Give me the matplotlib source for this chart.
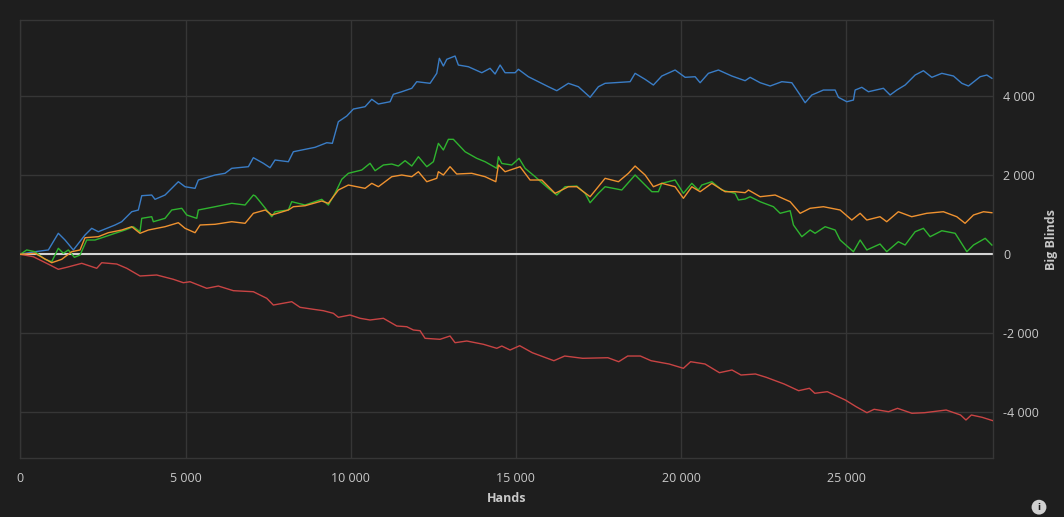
import matplotlib
matplotlib.use("Agg")
import matplotlib.pyplot as plt
from matplotlib.ticker import FuncFormatter

# --------------------------------------------------
# DATA (hands, big blinds)
# --------------------------------------------------
blue_hands = [0, 445, 848, 1150, 1353, 1604, 1958, 2161, 2361, 2867, 3069, 3372, 3572, 3675,
              3977, 4077, 4380, 4783, 4985, 5288, 5388, 5894, 6196, 6399, 6902, 7053, 7356,
              7558, 7709, 8112, 8264, 8921, 9275, 9444, 9626, 9880, 10080, 10434, 10637,
              10837, 11191, 11291, 11545, 11848, 11999, 12402, 12604, 12683, 12804, 12907,
              13158, 13258, 13561, 13967, 14218, 14369, 14521, 14672, 14975, 15074, 15377,
              15982, 16237, 16588, 16891, 17245, 17496, 17699, 18456, 18607, 18910, 19161,
              19416, 19818, 20121, 20424, 20575, 20826, 21129, 21534, 21937, 22088, 22391,
              22694, 23048, 23351, 23602, 23754, 23956, 24307, 24661, 24761, 25015, 25215,
              25266, 25469, 25669, 26123, 26326, 26529, 26780, 27083, 27334, 27589, 27891,
              28243, 28497, 28697, 29051, 29253, 29405]
blue_bb = [0, 66, 110, 532, 362, 110, 489, 658, 572, 742, 825, 1078, 1121, 1484,
           1501, 1392, 1501, 1838, 1711, 1670, 1881, 2008, 2051, 2177, 2218, 2446, 2304,
           2192, 2387, 2344, 2597, 2709, 2825, 2810, 3357, 3501, 3678, 3737, 3924,
           3805, 3863, 4051, 4116, 4203, 4370, 4329, 4582, 4962, 4767, 4937,
           5020, 4792, 4749, 4597, 4709, 4565, 4792, 4597, 4597, 4684, 4496,
           4243, 4142, 4329, 4243, 3975, 4243, 4329, 4370, 4582, 4430, 4286,
           4514, 4666, 4481, 4496, 4344, 4582, 4666, 4514, 4395, 4481, 4344,
           4261, 4370, 4344, 4033, 3838, 4033, 4159, 4159, 3975, 3863, 3906,
           4159, 4228, 4116, 4203, 4033, 4159, 4286, 4539, 4648, 4481, 4582,
           4514, 4329, 4261, 4496, 4539, 4456]

green_hands = [0, 194, 445, 748, 950, 1150, 1302, 1453, 1635, 1807, 2010, 2261, 2564, 2867,
               3169, 3421, 3623, 3675, 3977, 4026, 4380, 4583, 4886, 5037, 5340, 5388, 5894,
               6399, 6802, 7053, 7113, 7214, 7416, 7610, 7710, 8112, 8215, 8618, 9123, 9323,
               9526, 9729, 9929, 10334, 10585, 10737, 10988, 11242, 11442, 11645, 11848,
               12048, 12302, 12502, 12653, 12804, 12956, 13107, 13461, 13815, 14067, 14421,
               14470, 14572, 14874, 15095, 15278, 15581, 15982, 16237, 16488, 16842, 17093,
               17245, 17496, 17699, 18204, 18607, 18859, 19113, 19313, 19416, 19818, 20069,
               20324, 20523, 20626, 20929, 21232, 21634, 21734, 21937, 22088, 22391, 22794,
               22997, 23300, 23400, 23653, 23904, 24055, 24358, 24661, 24812, 25215, 25418,
               25620, 26020, 26223, 26575, 26780, 27083, 27334, 27536, 27891, 28294, 28648,
               28849, 29203, 29405]
green_bb = [0, 110, 66, -127, -187, 152, 25, 110, -76, -18, 362, 362, 446, 532,
            615, 699, 572, 911, 952, 825, 911, 1122, 1165, 995, 911, 1122, 1205,
            1291, 1248, 1501, 1476, 1375, 1165, 952, 1078, 1122, 1332, 1248, 1392, 1248,
            1544, 1899, 2051, 2134, 2304, 2116, 2261, 2286, 2235, 2370, 2235,
            2471, 2218, 2344, 2810, 2641, 2911, 2911, 2597, 2430, 2344, 2177,
            2471, 2300, 2261, 2430, 2177, 1965, 1670, 1501, 1711, 1729, 1544,
            1306, 1544, 1711, 1628, 2008, 1797, 1585, 1585, 1797, 1881, 1544,
            1797, 1628, 1754, 1838, 1628, 1544, 1375, 1400, 1458, 1332, 1205,
            1038, 1104, 742, 446, 615, 532, 699, 615, 362, 66, 362,
            110, 261, 66, 319, 235, 572, 658, 446, 597, 532, 66,
            235, 405, 235]

orange_hands = [0, 445, 950, 1253, 1556, 1807, 1958, 2361, 2664, 3069, 3372, 3623, 3874,
                4380, 4783, 4985, 5288, 5439, 5894, 6399, 6802, 7053, 7416, 7610, 8112,
                8264, 8618, 9123, 9323, 9626, 9929, 10434, 10637, 10837, 11242, 11545,
                11848, 12048, 12302, 12604, 12653, 12804, 13006, 13208, 13662, 14067,
                14391, 14470, 14672, 15126, 15429, 15784, 16186, 16588, 16842, 17245,
                17699, 18102, 18405, 18607, 18910, 19161, 19416, 19818, 20069, 20324,
                20575, 20929, 21331, 21634, 21937, 22037, 22391, 22845, 23300, 23602,
                23904, 24307, 24812, 25166, 25418, 25620, 26020, 26223, 26575, 26979,
                27433, 27938, 28343, 28594, 28849, 29152, 29405]
orange_bb = [0, 25, -213, -127, 66, 110, 420, 446, 547, 615, 699, 532, 615,
             699, 800, 658, 547, 742, 760, 825, 785, 1038, 1122, 995, 1122,
             1205, 1230, 1349, 1291, 1628, 1754, 1670, 1797, 1711, 1965, 2008,
             1965, 2091, 1838, 1924, 2091, 2008, 2218, 2033, 2051, 1965,
             1838, 2261, 2090, 2218, 1881, 1881, 1544, 1711, 1711, 1458,
             1924, 1838, 2051, 2235, 2008, 1711, 1797, 1711, 1418, 1711,
             1585, 1797, 1585, 1585, 1560, 1628, 1458, 1501, 1332, 1038,
             1165, 1205, 1122, 868, 1038, 868, 952, 825, 1078, 952,
             1038, 1078, 952, 785, 995, 1078, 1053]

red_hands = [0, 394, 899, 1150, 1405, 1859, 2313, 2464, 2918, 3221, 3623, 4129, 4631,
             4934, 5137, 5642, 5993, 6448, 7053, 7459, 7658, 8215, 8466, 8869, 9172,
             9475, 9626, 9980, 10283, 10585, 10988, 11394, 11696, 11896, 12099, 12250,
             12704, 13006, 13158, 13512, 14015, 14421, 14572, 14823, 15114, 15495,
             16149, 16476, 17021, 17784, 18111, 18383, 18765, 19091, 19636, 20069,
             20287, 20723, 21159, 21540, 21813, 22249, 22575, 23120, 23556, 23883,
             24047, 24425, 24970, 25297, 25624, 25842, 26278, 26550, 26986, 27368,
             28021, 28457, 28621, 28784, 29111, 29438]
red_bb = [0, -61, -271, -380, -329, -228, -354, -213, -246, -354, -549, -524, -633,
          -719, -694, -861, -803, -921, -947, -1114, -1284, -1200, -1342, -1392, -1428,
          -1494, -1595, -1537, -1620, -1663, -1620, -1815, -1833, -1916, -1934, -2127,
          -2152, -2068, -2238, -2195, -2278, -2380, -2322, -2423, -2314, -2491,
          -2694, -2575, -2633, -2618, -2719, -2575, -2575, -2694, -2777, -2886,
          -2719, -2777, -2997, -2929, -3056, -3030, -3114, -3284, -3453, -3392,
          -3519, -3478, -3689, -3858, -4010, -3924, -3985, -3899, -4025, -4010,
          -3942, -4068, -4195, -4068, -4127, -4213]

x_ticks = [0, 5000, 10000, 15000, 20000, 25000]
y_ticks = [-4000, -2000, 0, 2000, 4000]

# --------------------------------------------------
# PLOT
# --------------------------------------------------
bg = "#1e1e1e"
grid_c = "#363636"
text_c = "#c8c8c8"

fig = plt.figure(figsize=(10.64, 5.17), dpi=100, facecolor=bg)
ax = fig.add_axes([0.0191, 0.1135, 0.9145, 0.8472], facecolor=bg)

ax.axhline(0, color="#d4d4d4", linewidth=1.5, zorder=2)
ax.plot(blue_hands, blue_bb, color="#3a7dc6", linewidth=1.0, zorder=3)
ax.plot(green_hands, green_bb, color="#2fb42f", linewidth=1.0, zorder=3)
ax.plot(orange_hands, orange_bb, color="#ef9230", linewidth=1.0, zorder=4)
ax.plot(red_hands, red_bb, color="#c84444", linewidth=1.0, zorder=3)

ax.set_xlim(0, 29450)
ax.set_ylim(-5165, 5924)
ax.set_xticks(x_ticks)
ax.set_yticks(y_ticks)

fmt = FuncFormatter(lambda v, p: f"{v:,.0f}".replace(",", " "))
ax.xaxis.set_major_formatter(fmt)
ax.yaxis.set_major_formatter(fmt)

ax.yaxis.tick_right()
ax.yaxis.set_label_position("right")
ax.tick_params(axis="both", length=0, colors=text_c, labelsize=9)
ax.tick_params(axis="x", pad=10)
ax.tick_params(axis="y", pad=7)
for lbl in ax.get_xticklabels() + ax.get_yticklabels():
    lbl.set_fontfamily("Open Sans")

ax.grid(True, color=grid_c, linewidth=1)
ax.set_axisbelow(True)
for s in ax.spines.values():
    s.set_color(grid_c)
    s.set_linewidth(1)

ax.set_xlabel("Hands", color=text_c, fontsize=9, fontweight="bold",
              fontfamily="Open Sans", labelpad=5)
ax.set_ylabel("Big Blinds", color=text_c, fontsize=9, fontweight="bold",
              fontfamily="Open Sans", labelpad=4)

# info icon, bottom right
fig.text(0.9765, 0.019, "i", color=bg, fontsize=6, fontweight="bold",
         ha="center", va="center", fontfamily="DejaVu Sans",
         bbox=dict(boxstyle="circle,pad=0.35", fc="#d0d0d0", ec="none"))

fig.savefig("out.png", dpi=100, facecolor=bg)
